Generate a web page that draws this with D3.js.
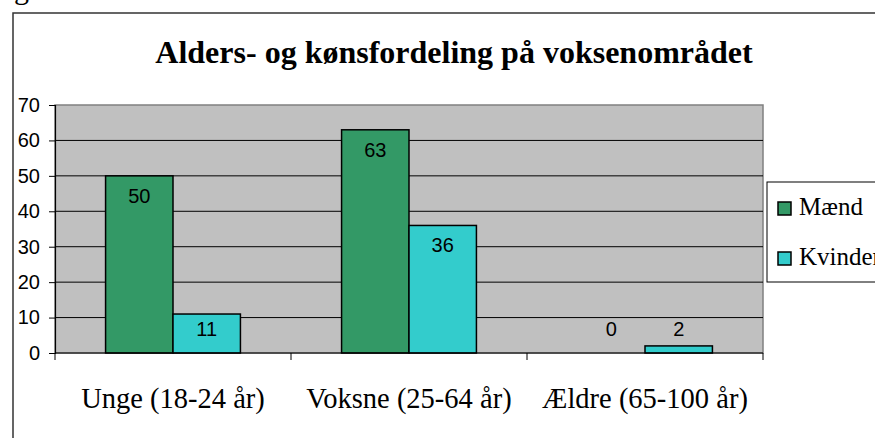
<!DOCTYPE html>
<html>
<head>
<meta charset="utf-8">
<script src="https://cdn.jsdelivr.net/npm/d3@7"></script>
<style>
  body { margin: 0; background: #fff; }
  svg { display: block; }
</style>
</head>
<body>
<div id="graf"></div>
<script>
// data
var kategorier = ["Unge (18-24 år)", "Voksne (25-64 år)", "Ældre (65-100 år)"];
var serier = ["Mænd", "Kvinder"];
var maend = [50, 63, 0];
var kvinder = [11, 36, 2];
var yTicks = [0, 10, 20, 30, 40, 50, 60, 70];
var titel = "Alders- og kønsfordeling på voksenområdet";

var farver = { "Mænd": "#339966", "Kvinder": "#33CCCC" };
var serif = "'Liberation Serif', 'Times New Roman', serif";
var sans = "'Liberation Sans', Arial, sans-serif";

var bredde = 875, hoejde = 438;
var plot = { left: 55, top: 105, right: 763, bottom: 353 };

var svg = d3.select("#graf").append("svg").attr("width", bredde).attr("height", hoejde);

// tekst over diagrammet (afskaaret)
svg.append("text").attr("x", 14).attr("y", -1)
    .attr("font-family", serif).attr("font-size", 30).text("g");

// ramme om diagrammet
svg.append("path")
    .attr("d", "M13," + hoejde + " L13,13 L" + bredde + ",13")
    .attr("fill", "none").attr("stroke", "#333").attr("stroke-width", 1.5);

svg.append("text")
    .attr("x", 454).attr("y", 63)
    .attr("text-anchor", "middle")
    .attr("font-family", serif).attr("font-weight", "bold").attr("font-size", 32)
    .text(titel);

var x = d3.scaleBand().domain(kategorier).range([plot.left, plot.right]);
var x1 = d3.scaleBand().domain(serier).range([0, x.bandwidth()]).paddingInner(0).paddingOuter(0.75);
var y = d3.scaleLinear().domain([0, 70]).range([plot.bottom, plot.top]);

// baggrund
svg.append("rect")
    .attr("x", plot.left).attr("y", plot.top)
    .attr("width", plot.right - plot.left).attr("height", plot.bottom - plot.top)
    .attr("fill", "#C0C0C0").attr("stroke", "#808080").attr("stroke-width", 1.5);

// gitterlinjer
svg.selectAll(".grid").data(yTicks.slice(1, -1)).enter().append("line")
    .attr("x1", plot.left).attr("x2", plot.right)
    .attr("y1", function(d) { return y(d); }).attr("y2", function(d) { return y(d); })
    .attr("stroke", "#000").attr("stroke-width", 1);

// y-akse
var yAkse = svg.append("g").attr("transform", "translate(" + plot.left + ",0)")
    .call(d3.axisLeft(y).tickValues(yTicks).tickSize(6).tickPadding(9));
yAkse.select(".domain").attr("stroke", "#000").attr("stroke-width", 1.2);
yAkse.selectAll("line").attr("stroke", "#000");
yAkse.selectAll("text").attr("font-family", sans).attr("font-size", 20).attr("fill", "#000");

// soejler
var data = [];
kategorier.forEach(function(k, i) {
    data.push({ kat: k, serie: "Mænd", v: maend[i] });
    data.push({ kat: k, serie: "Kvinder", v: kvinder[i] });
});

svg.selectAll(".bar").data(data.filter(function(d) { return d.v > 0; })).enter().append("rect")
    .attr("x", function(d) { return x(d.kat) + x1(d.serie); })
    .attr("y", function(d) { return y(d.v); })
    .attr("width", x1.bandwidth())
    .attr("height", function(d) { return y(0) - y(d.v); })
    .attr("fill", function(d) { return farver[d.serie]; })
    .attr("stroke", "#000").attr("stroke-width", 1.5);

svg.selectAll(".lbl").data(data).enter().append("text")
    .attr("x", function(d) { return x(d.kat) + x1(d.serie) + x1.bandwidth() / 2; })
    .attr("y", function(d) { return Math.min(y(d.v) + 20, y(0) - 24); })
    .attr("dy", "0.35em")
    .attr("text-anchor", "middle")
    .attr("font-family", sans).attr("font-size", 20)
    .text(function(d) { return d.v; });

// x-akse
svg.append("line")
    .attr("x1", plot.left).attr("x2", plot.right)
    .attr("y1", y(0)).attr("y2", y(0))
    .attr("stroke", "#000").attr("stroke-width", 1.2);

var graenser = kategorier.map(function(k) { return x(k); }).concat([plot.right]);
svg.selectAll(".xtick").data(graenser).enter().append("line")
    .attr("x1", function(d) { return d; }).attr("x2", function(d) { return d; })
    .attr("y1", y(0)).attr("y2", y(0) + 7)
    .attr("stroke", "#000");

svg.selectAll(".xlbl").data(kategorier).enter().append("text")
    .attr("x", function(d) { return x(d) + x.bandwidth() / 2; })
    .attr("y", 408)
    .attr("text-anchor", "middle")
    .attr("font-family", serif).attr("font-size", 28.5)
    .text(function(d) { return d; });

// forklaring
svg.append("rect")
    .attr("x", 767).attr("y", 182).attr("width", 140).attr("height", 100)
    .attr("fill", "#fff").attr("stroke", "#000").attr("stroke-width", 1);

var leg = svg.selectAll(".leg").data(serier).enter().append("g")
    .attr("transform", function(d, i) { return "translate(778," + (202 + i * 50) + ")"; });
leg.append("rect").attr("width", 13).attr("height", 13)
    .attr("fill", function(d) { return farver[d]; })
    .attr("stroke", "#000").attr("stroke-width", 1.5);
leg.append("text").attr("x", 21).attr("y", 13)
    .attr("font-family", serif).attr("font-size", 25)
    .text(function(d) { return d; });
</script>
</body>
</html>
